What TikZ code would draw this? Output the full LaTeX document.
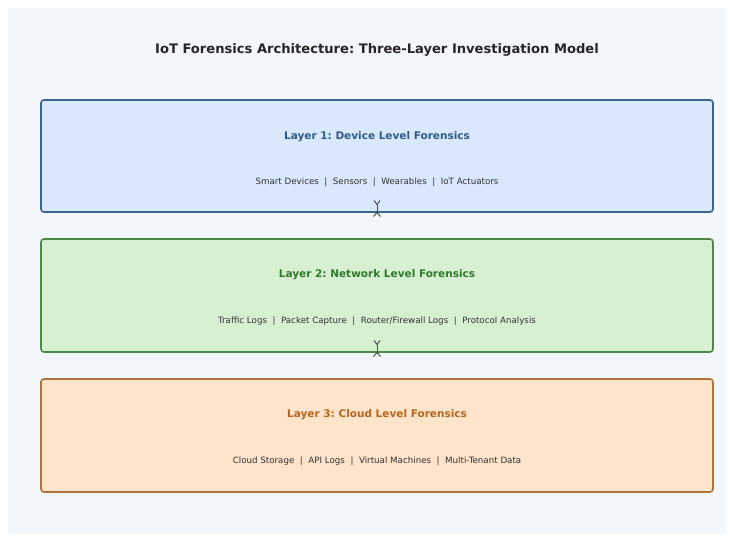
\documentclass[tikz,border=0pt]{standalone}
\usepackage{fontspec}
\setmainfont{DejaVu Sans}
\usetikzlibrary{arrows.meta}
\definecolor{pagebg}{HTML}{F3F6FB}
\definecolor{bluefill}{HTML}{DAE8FC}
\definecolor{blueline}{HTML}{3A6590}
\definecolor{bluetext}{HTML}{2F5B85}
\definecolor{greenfill}{HTML}{D7F0D2}
\definecolor{greenline}{HTML}{4E8A45}
\definecolor{greentext}{HTML}{2F7A2C}
\definecolor{orangefill}{HTML}{FDE4CB}
\definecolor{orangeline}{HTML}{B2733A}
\definecolor{orangetext}{HTML}{B5661F}
\definecolor{subtext}{HTML}{333333}
\begin{document}
\frenchspacing
\begin{tikzpicture}[x=1pt,y=-1pt,
  layerbox/.style={draw, line width=1.6pt, rounded corners=3pt},
  layertitle/.style={font=\bfseries\fontsize{10.5}{12}\selectfont},
  layersub/.style={font=\fontsize{8.7}{10}\selectfont, text=subtext},
  linkarrow/.style={{Straight Barb[reversed,length=4pt,width=6pt]}-{Straight Barb[reversed,length=4pt,width=7pt]}, line width=1pt, draw=black!70}]
\useasboundingbox (0,0) rectangle (733,541);
\fill[white] (0,0) rectangle (733,541);
\fill[pagebg] (8,8) rectangle (726,534);
\node[font=\bfseries\fontsize{13.1}{15}\selectfont, text=black!85] (title) at (377,50) {IoT Forensics Architecture: Three-Layer Investigation Model};
% boxes
\draw[layerbox, fill=bluefill, draw=blueline] (41,100) rectangle (713,212);
\draw[layerbox, fill=greenfill, draw=greenline] (41,239) rectangle (713,352);
\draw[layerbox, fill=orangefill, draw=orangeline] (41,379) rectangle (713,492);
\node[layertitle, text=bluetext] (t1) at (377,137) {Layer 1: Device Level Forensics};
\node[layersub] (s1) at (377,182) {Smart Devices \ | \ Sensors \ | \ Wearables \ | \ IoT Actuators};
\node[layertitle, text=greentext] (t2) at (377,275) {Layer 2: Network Level Forensics};
\node[layersub] (s2) at (377,321) {Traffic Logs \ | \ Packet Capture \ | \ Router/Firewall Logs \ | \ Protocol Analysis};
\node[layertitle, text=orangetext] (t3) at (377,415) {Layer 3: Cloud Level Forensics};
\node[layersub] (s3) at (377,461) {Cloud Storage \ | \ API Logs \ | \ Virtual Machines \ | \ Multi-Tenant Data};
\coordinate (a1top) at (377,200);
\coordinate (a1bot) at (377,217);
\coordinate (a2top) at (377,340);
\coordinate (a2bot) at (377,357);
\draw[linkarrow] (a1top) -- (a1bot);
\draw[linkarrow] (a2top) -- (a2bot);
\end{tikzpicture}
\end{document}
